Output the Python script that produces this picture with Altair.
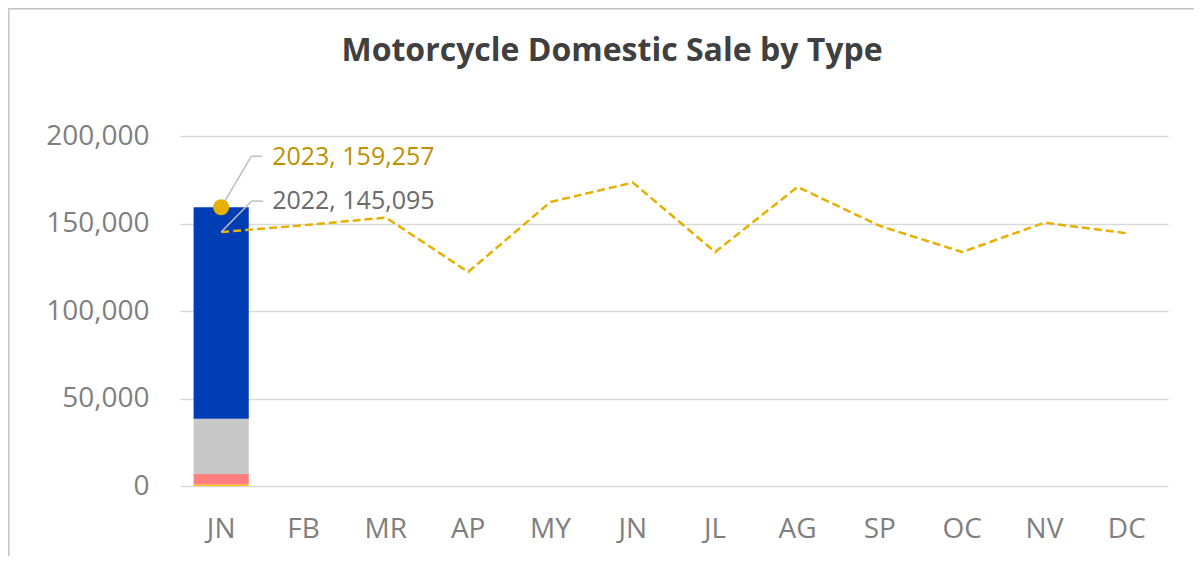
import altair as alt
import pandas as pd

# ---- data ----
months = ["JN", "FB", "MR", "AP", "MY", "JN", "JL", "AG", "SP", "OC", "NV", "DC"]
sales_2022 = [145095, 149000, 153400, 122300, 162300, 173400, 133700, 170900, 148600, 133700, 150500, 144400]
types = ["Big Bike", "Sport", "Family", "Scooter"]          # bottom -> top of the stack
jan_2023_by_type = [900, 5977, 31518, 120862]               # sums to 159,257
type_colors = ["#FFC000", "#FF7F7F", "#C8C8C8", "#003CB4"]
y_ticks = [0, 50000, 100000, 150000, 200000]

total_2023 = sum(jan_2023_by_type)

line_df = pd.DataFrame({"m": list(range(len(months))), "v": sales_2022})
bar_df = pd.DataFrame({
    "m": [0] * len(types),
    "type": types,
    "v": jan_2023_by_type,
    "ord": list(range(len(types))),
})
dot_df = pd.DataFrame({"m": [0], "v": [total_2023], "label": [f"2023, {total_2023:,}"]})
lab22_df = pd.DataFrame({"m": [0], "v": [sales_2022[0]], "label": [f"2022, {sales_2022[0]:,}"]})
deco_df = pd.DataFrame({"d": [0]})

label_expr = "[" + ",".join(f"'{m}'" for m in months) + "][datum.value]"

FONT = "Open Sans"
x_axis = alt.Axis(title=None, labelExpr=label_expr, labelAngle=0, labelFont=FONT, labelFontSize=28,
                  labelColor="#7F7F7F", ticks=False, domain=False, grid=False, labelPadding=29)
y_axis = alt.Axis(title=None, values=y_ticks, format=",.0f", labelFont=FONT, labelFontSize=28,
                  labelColor="#7F7F7F", ticks=False, domain=False, grid=True, gridColor="#D9D9D9",
                  gridWidth=1.5, labelPadding=31, labelBaseline="middle")

x_enc = alt.X("m:O", scale=alt.Scale(domain=list(range(len(months))), paddingInner=0.33, paddingOuter=0.165),
              axis=x_axis)
y_enc = alt.Y("v:Q", scale=alt.Scale(domain=[0, 200000]), axis=y_axis)

bars = alt.Chart(bar_df).mark_bar().encode(
    x=x_enc,
    y=y_enc,
    color=alt.Color("type:N", scale=alt.Scale(domain=types, range=type_colors), legend=None),
    order=alt.Order("ord:Q"),
)

line = alt.Chart(line_df).mark_line(color="#E6B000", strokeWidth=2.5, strokeDash=[8, 4]).encode(
    x=x_enc, y=y_enc
)

lead23a = alt.Chart(dot_df).mark_rule(color="#BFBFBF", strokeWidth=1.5, x2Offset=30, y2Offset=-51).encode(
    x=x_enc, x2=alt.X2("m"), y=y_enc, y2=alt.Y2("v")
)
lead23b = alt.Chart(dot_df).mark_rule(color="#BFBFBF", strokeWidth=1.5, xOffset=30, x2Offset=41,
                                      yOffset=-51, y2Offset=-51).encode(
    x=x_enc, x2=alt.X2("m"), y=y_enc, y2=alt.Y2("v")
)
lead22a = alt.Chart(lab22_df).mark_rule(color="#BFBFBF", strokeWidth=1.5, x2Offset=30.5, y2Offset=-31).encode(
    x=x_enc, x2=alt.X2("m"), y=y_enc, y2=alt.Y2("v")
)
lead22b = alt.Chart(lab22_df).mark_rule(color="#BFBFBF", strokeWidth=1.5, xOffset=30.5, x2Offset=42,
                                        yOffset=-31, y2Offset=-31).encode(
    x=x_enc, x2=alt.X2("m"), y=y_enc, y2=alt.Y2("v")
)

dot = alt.Chart(dot_df).mark_point(filled=True, size=260, color="#E6B000", opacity=1).encode(
    x=x_enc, y=y_enc
)

text23 = alt.Chart(dot_df).mark_text(align="left", baseline="middle", dx=51, dy=-50, font=FONT,
                                     fontSize=25, color="#BF9000").encode(x=x_enc, y=y_enc, text="label:N")
text22 = alt.Chart(lab22_df).mark_text(align="left", baseline="middle", dx=51, dy=-31, font=FONT,
                                       fontSize=25, color="#6A6A6A").encode(x=x_enc, y=y_enc, text="label:N")

border_top = alt.Chart(deco_df).mark_rule(color="#C4C4C4", strokeWidth=1.5).encode(
    x=alt.value(-172), x2=alt.value(1014), y=alt.value(-127.2)
)
border_left = alt.Chart(deco_df).mark_rule(color="#C4C4C4", strokeWidth=1.5).encode(
    x=alt.value(-171.2), y=alt.value(-128), y2=alt.value(430)
)

chart = alt.layer(
    bars, line, lead23a, lead23b, lead22a, lead22b, dot, text23, text22, border_top, border_left
).properties(
    width=988,
    height=350,
    autosize=alt.AutoSizeParams(type="none"),
    padding={"left": 172, "top": 128, "right": 26, "bottom": 70},
    title=alt.TitleParams(
        "Motorcycle Domestic Sale by Type", font=FONT, fontSize=32, fontWeight="bold",
        color="#404040", anchor="middle", frame="group", dx=-62, dy=61, offset=0,
    ),
).configure_view(stroke=None)

chart.save("out.html", embed_options={"renderer": "svg", "actions": False})
